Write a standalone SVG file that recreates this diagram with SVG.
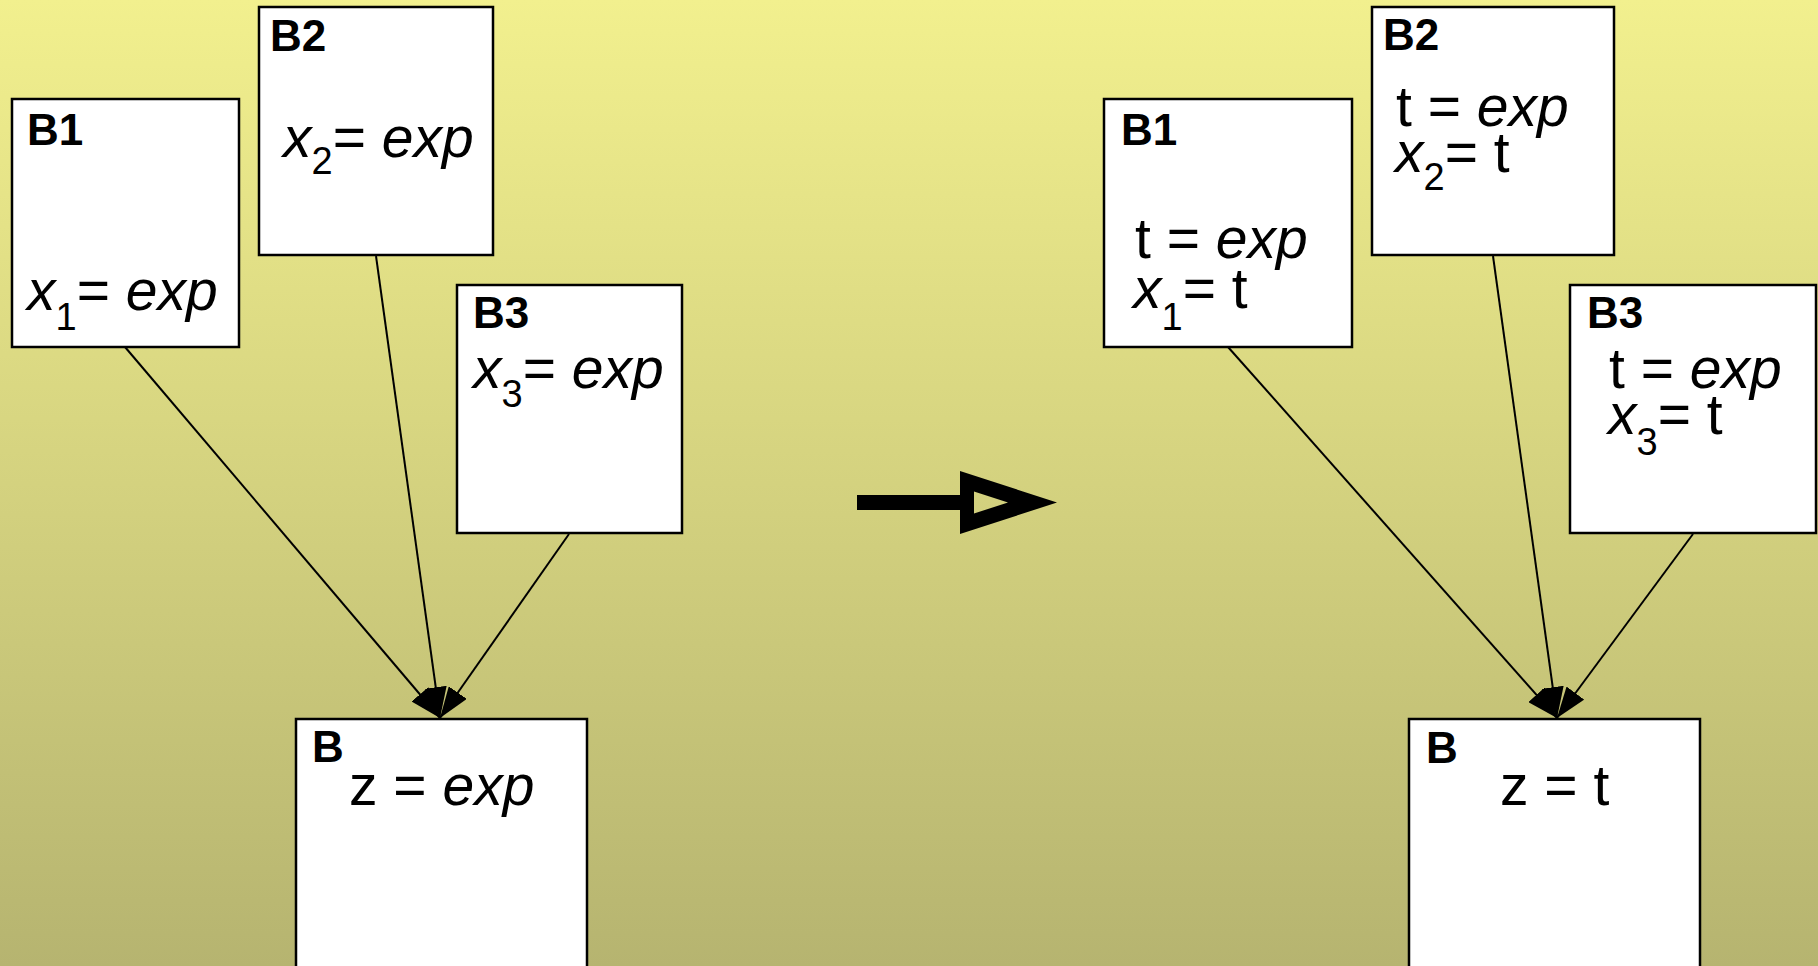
<svg xmlns="http://www.w3.org/2000/svg" width="1818" height="966" viewBox="0 0 1818 966">
<defs>
<linearGradient id="bg" x1="0" y1="0" x2="0" y2="1">
<stop offset="0" stop-color="#F2F08E"/>
<stop offset="1" stop-color="#B6B470"/>
</linearGradient>
<marker id="ah" viewBox="0 0 31 22" refX="31" refY="11" markerWidth="31" markerHeight="22" markerUnits="userSpaceOnUse" orient="auto">
<path d="M0,0 L31,11 L0,22 z" fill="#000"/>
</marker>
<style>
.box{fill:#fff;stroke:#000;stroke-width:2.5}
.lbl{font-family:"Liberation Sans",Arial,sans-serif;font-weight:bold;font-size:44px;fill:#000}
.ex{font-family:"Liberation Sans",Arial,sans-serif;font-size:57px;fill:#000}
.i{font-style:italic}
.sub{font-size:38px}
.edge{stroke:#000;stroke-width:2;fill:none;marker-end:url(#ah)}
</style>
</defs>
<rect x="0" y="0" width="1818" height="966" fill="url(#bg)"/>

<g id="connectors">
<line class="edge" x1="125" y1="347" x2="440" y2="718"/>
<line class="edge" x1="376" y1="256" x2="440" y2="718"/>
<line class="edge" x1="569" y1="534" x2="440" y2="718"/>
<line class="edge" x1="1228" y1="347" x2="1557" y2="718"/>
<line class="edge" x1="1493" y1="256" x2="1557" y2="718"/>
<line class="edge" x1="1693" y1="534" x2="1557" y2="718"/>
</g>

<g id="L_B1">
<rect class="box" x="12" y="99" width="227" height="248"/>
<text class="lbl" x="27" y="145">B1</text>
<text class="ex" x="27" y="310"><tspan class="i">x</tspan><tspan class="sub" dy="20">1</tspan><tspan dy="-20">= </tspan><tspan class="i">exp</tspan></text>
</g>
<g id="L_B2">
<rect class="box" x="259" y="7" width="234" height="248"/>
<text class="lbl" x="270" y="51">B2</text>
<text class="ex" x="283" y="157"><tspan class="i">x</tspan><tspan class="sub" dy="17">2</tspan><tspan dy="-17">= </tspan><tspan class="i">exp</tspan></text>
</g>
<g id="L_B3">
<rect class="box" x="457" y="285" width="225" height="248"/>
<text class="lbl" x="473" y="328">B3</text>
<text class="ex" x="473" y="388"><tspan class="i">x</tspan><tspan class="sub" dy="19">3</tspan><tspan dy="-19">= </tspan><tspan class="i">exp</tspan></text>
</g>
<g id="L_B">
<rect class="box" x="296" y="719" width="291" height="260"/>
<text class="lbl" x="312" y="762">B</text>
<text class="ex" x="349" y="805">z = <tspan class="i">exp</tspan></text>
</g>

<g id="transform-arrow">
<path d="M857,495 H960 V471 L1057,502.5 L960,534 V510 H857 z M974,491.5 V513.5 L1008,502.5 z" fill="#000" fill-rule="evenodd"/>
</g>

<g id="R_B1">
<rect class="box" x="1104" y="99" width="248" height="248"/>
<text class="lbl" x="1121" y="145">B1</text>
<text class="ex" x="1135" y="258">t = <tspan class="i">exp</tspan></text>
<text class="ex" x="1133" y="308"><tspan class="i">x</tspan><tspan class="sub" dy="22">1</tspan><tspan dy="-22">= t</tspan></text>
</g>
<g id="R_B2">
<rect class="box" x="1372" y="7" width="242" height="248"/>
<text class="lbl" x="1383" y="50">B2</text>
<text class="ex" x="1396" y="126">t = <tspan class="i">exp</tspan></text>
<text class="ex" x="1395" y="172"><tspan class="i">x</tspan><tspan class="sub" dy="18">2</tspan><tspan dy="-18">= t</tspan></text>
</g>
<g id="R_B3">
<rect class="box" x="1570" y="285" width="246" height="248"/>
<text class="lbl" x="1587" y="328">B3</text>
<text class="ex" x="1609" y="388">t = <tspan class="i">exp</tspan></text>
<text class="ex" x="1608" y="434"><tspan class="i">x</tspan><tspan class="sub" dy="21">3</tspan><tspan dy="-21">= t</tspan></text>
</g>
<g id="R_B">
<rect class="box" x="1409" y="719" width="291" height="260"/>
<text class="lbl" x="1426" y="763">B</text>
<text class="ex" x="1500" y="805">z = t</text>
</g>
</svg>
